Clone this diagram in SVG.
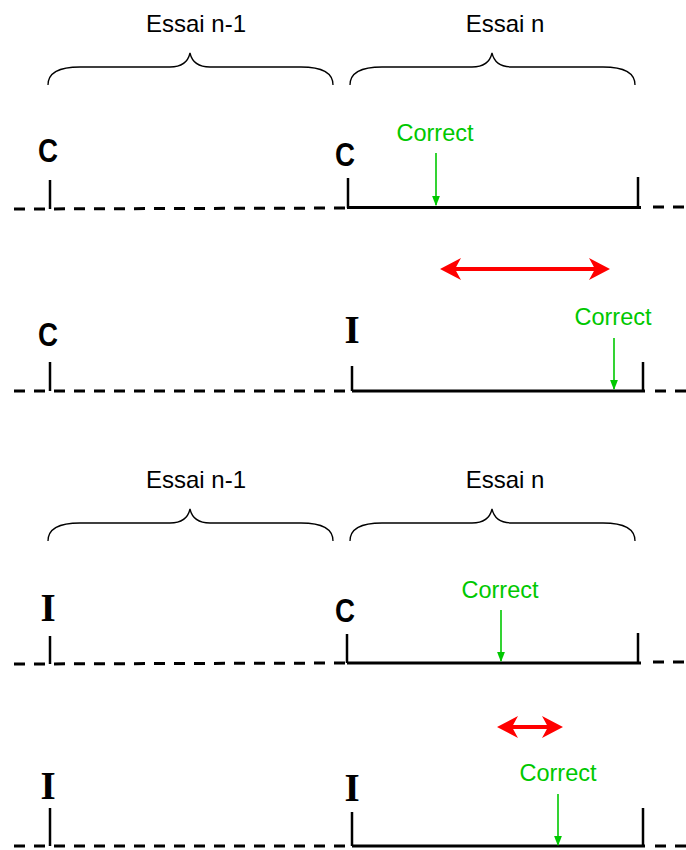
<svg xmlns="http://www.w3.org/2000/svg" width="686" height="850" viewBox="0 0 686 850">
<style>
.hdr{font-family:"Liberation Sans",Arial,sans-serif;font-size:24px;fill:#000;text-anchor:middle}
.cor{font-family:"Liberation Sans",Arial,sans-serif;font-size:23.5px;fill:#00c800;text-anchor:middle}
.lc{font-family:"Liberation Sans",Arial,sans-serif;font-weight:bold;font-size:34px;fill:#000;text-anchor:middle}
.li{font-family:"Liberation Serif","Times New Roman",serif;font-weight:bold;font-size:39px;fill:#000;text-anchor:middle}
.brace{fill:none;stroke:#000;stroke-width:1.3}
.dash{stroke:#000;stroke-width:3;stroke-dasharray:11 9;fill:none}
.solid{stroke:#000;stroke-width:3;fill:none}
.tick{stroke:#000;stroke-width:2.5;fill:none}
.garrow{stroke:#00c800;stroke-width:1.6;fill:none;marker-end:url(#gh)}
.rarrow{stroke:#ff0000;stroke-width:4;fill:none;marker-end:url(#rh);marker-start:url(#rh)}
</style>
<defs>
<marker id="gh" markerUnits="userSpaceOnUse" markerWidth="10" markerHeight="10" viewBox="0 -4 9 8" refX="8" refY="0" orient="auto">
<path d="M0,-3.5 L9,0 L0,3.5 Z" fill="#00c800"/>
</marker>
<marker id="rh" markerUnits="userSpaceOnUse" markerWidth="22" markerHeight="24" viewBox="0 -11 22 22" refX="14" refY="0" orient="auto-start-reverse">
<path d="M0,-11 L21,0 L0,11 L6,0 Z" fill="#ff0000"/>
</marker>
</defs>

<g id="panel1-headers">
<text class="hdr" x="196" y="32">Essai n-1</text>
<text class="hdr" x="505" y="32">Essai n</text>
<path class="brace" d="M48,85 C48,74 58,67 80,67 L170,67 C182,67 188,62 190,53 C192,62 198,67 210,67 L301,67 C323,67 333,74 333,85"/>
<path class="brace" d="M350,85 C350,74 360,67 382,67 L472,67 C484,67 490,62 492,53 C494,62 500,67 512,67 L603,67 C625,67 635,74 635,85"/>
</g>

<g id="panel2-headers">
<text class="hdr" x="196" y="488">Essai n-1</text>
<text class="hdr" x="505" y="488">Essai n</text>
<path class="brace" d="M48,541 C48,530 58,523 80,523 L170,523 C182,523 188,518 190,509 C192,518 198,523 210,523 L301,523 C323,523 333,530 333,541"/>
<path class="brace" d="M350,541 C350,530 360,523 382,523 L472,523 C484,523 490,518 492,509 C494,518 500,523 512,523 L603,523 C625,523 635,530 635,541"/>
</g>

<g id="row1">
<line class="dash" x1="14" y1="209" x2="347" y2="208"/>
<line class="solid" x1="347" y1="207.5" x2="641" y2="207.5"/>
<line class="dash" x1="653" y1="207" x2="686" y2="207"/>
<line class="tick" x1="50" y1="180" x2="50" y2="209"/>
<line class="tick" x1="348" y1="178" x2="348" y2="208"/>
<line class="tick" x1="638" y1="177" x2="638" y2="207"/>
<text class="lc" x="48" y="162" textLength="20" lengthAdjust="spacingAndGlyphs">C</text>
<text class="lc" x="345" y="166" textLength="20" lengthAdjust="spacingAndGlyphs">C</text>
<text class="cor" x="435" y="141">Correct</text>
</g>

<g id="row2">
<line class="dash" x1="14" y1="391" x2="352" y2="391"/>
<line class="solid" x1="352" y1="391" x2="645" y2="391"/>
<line class="dash" x1="655" y1="391" x2="686" y2="391"/>
<line class="tick" x1="50" y1="362" x2="50" y2="391"/>
<line class="tick" x1="352" y1="366" x2="352" y2="391"/>
<line class="tick" x1="643" y1="362" x2="643" y2="392"/>
<text class="lc" x="48" y="346" textLength="20" lengthAdjust="spacingAndGlyphs">C</text>
<text class="li" x="352" y="343">I</text>
<text class="cor" x="613" y="325">Correct</text>
</g>

<g id="row3">
<line class="dash" x1="14" y1="664" x2="347" y2="663"/>
<line class="solid" x1="347" y1="663" x2="641" y2="663"/>
<line class="dash" x1="653" y1="662" x2="686" y2="662"/>
<line class="tick" x1="50" y1="636" x2="50" y2="664"/>
<line class="tick" x1="347" y1="634" x2="347" y2="663"/>
<line class="tick" x1="638" y1="633" x2="638" y2="662"/>
<text class="li" x="48" y="621">I</text>
<text class="lc" x="345" y="622" textLength="20" lengthAdjust="spacingAndGlyphs">C</text>
<text class="cor" x="500" y="598">Correct</text>
</g>

<g id="row4">
<line class="dash" x1="14" y1="846" x2="352" y2="846"/>
<line class="solid" x1="352" y1="846" x2="645" y2="846"/>
<line class="dash" x1="655" y1="846" x2="686" y2="846"/>
<line class="tick" x1="50" y1="808" x2="50" y2="846"/>
<line class="tick" x1="352" y1="812" x2="352" y2="846"/>
<line class="tick" x1="643" y1="808" x2="643" y2="846"/>
<text class="li" x="48" y="799">I</text>
<text class="li" x="352" y="801">I</text>
<text class="cor" x="558" y="781">Correct</text>
</g>

<g id="connectors">
<line class="garrow" x1="436" y1="153" x2="436" y2="205"/>
<line class="garrow" x1="614" y1="338" x2="614" y2="389"/>
<line class="garrow" x1="501" y1="610" x2="501" y2="661"/>
<line class="garrow" x1="558" y1="794" x2="558" y2="845"/>
<line class="rarrow" x1="447" y1="269" x2="603" y2="269"/>
<line class="rarrow" x1="504" y1="727" x2="556" y2="727"/>
</g>
</svg>
